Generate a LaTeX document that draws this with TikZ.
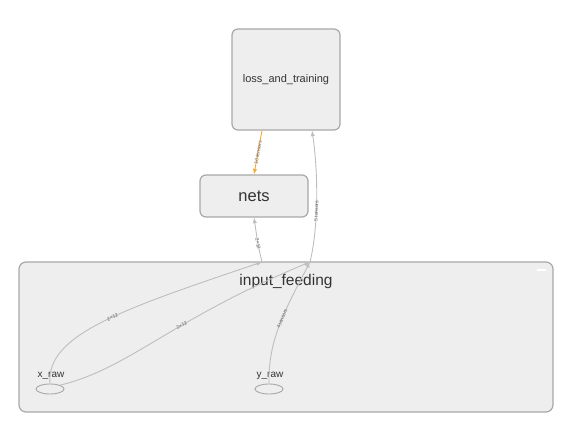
\documentclass[tikz,border=0pt]{standalone}
\usepackage{fontspec}
\setmainfont{Liberation Sans}
\usetikzlibrary{shapes.geometric, arrows, calc}

\definecolor{boxfill}{RGB}{238,238,238}
\definecolor{boxline}{RGB}{168,168,168}
\definecolor{edgegray}{RGB}{190,190,190}
\definecolor{edgeorange}{RGB}{245,168,60}
\definecolor{txt}{RGB}{51,51,51}

\tikzset{
  opbox/.style={draw=boxline, fill=boxfill, line width=1.2pt, rounded corners=6pt, text=txt},
  leaf/.style={ellipse, draw=boxline, fill=boxfill, line width=0.9pt, minimum width=28pt, minimum height=10pt, inner sep=0pt},
  leaflabel/.style={text=txt, font=\fontsize{10}{11}\selectfont},
  flow/.style={draw=edgegray, line width=0.9pt, -latex},
  elabel/.style={font=\fontsize{5}{5}\selectfont, text=txt!75, sloped, inner sep=0.3pt}
}

\begin{document}
\begin{tikzpicture}[x=1pt, y=-1pt]
      \useasboundingbox (0,0) rectangle (578,441);

      % cluster
      \node[opbox, minimum width=534pt, minimum height=150pt, rounded corners=7pt] (feed) at (286,337) {};
      \node[text=txt, font=\fontsize{15.5}{16}\selectfont] (feedlabel) at (286,281) {input\_feeding};
      \draw[white, line width=1.2pt] (537,270) -- (546,270);

      % ops
      \node[opbox, minimum width=108pt, minimum height=101pt, font=\fontsize{11}{12}\selectfont] (loss) at (286,79.5) {loss\_and\_training};
      \node[opbox, minimum width=108pt, minimum height=42pt, font=\fontsize{16.5}{17}\selectfont] (nets) at (254,196) {nets};

      % inputs
      \node[leaf] (xraw) at (50,389) {};
      \node[leaflabel] (xlabel) at (51,376) {x\_raw};
      \node[leaf] (yraw) at (269,389) {};
      \node[leaflabel] (ylabel) at (270,376) {y\_raw};

      \coordinate (feedA) at (262,262);
      \coordinate (feedB) at (310,262);

      % edges
      \draw[flow, draw=edgeorange, -latex] ([xshift=-24pt]loss.south) -- node[elabel] {10 tensors} (nets.north);
      \draw[flow] (feedB) .. controls (319,225) and (318,170) .. node[elabel, pos=0.4] {5 tensors} ([xshift=26pt]loss.south);
      \draw[flow] (feedA) .. controls (258,245) .. node[elabel] {2×12} (nets.south);

      \draw[flow] (xraw.north) .. controls (46,335) and (120,310) .. node[elabel, pos=0.55] {2×12} (feedA);
      \draw[flow] (xraw.north east) .. controls (130,368) and (170,320) .. node[elabel, pos=0.6] {2×12} (feedB);
      \draw[flow] (yraw.north) .. controls (268,340) and (285,310) .. node[elabel, pos=0.55] {4 tensors} (feedB);
    \end{tikzpicture}
\end{document}
